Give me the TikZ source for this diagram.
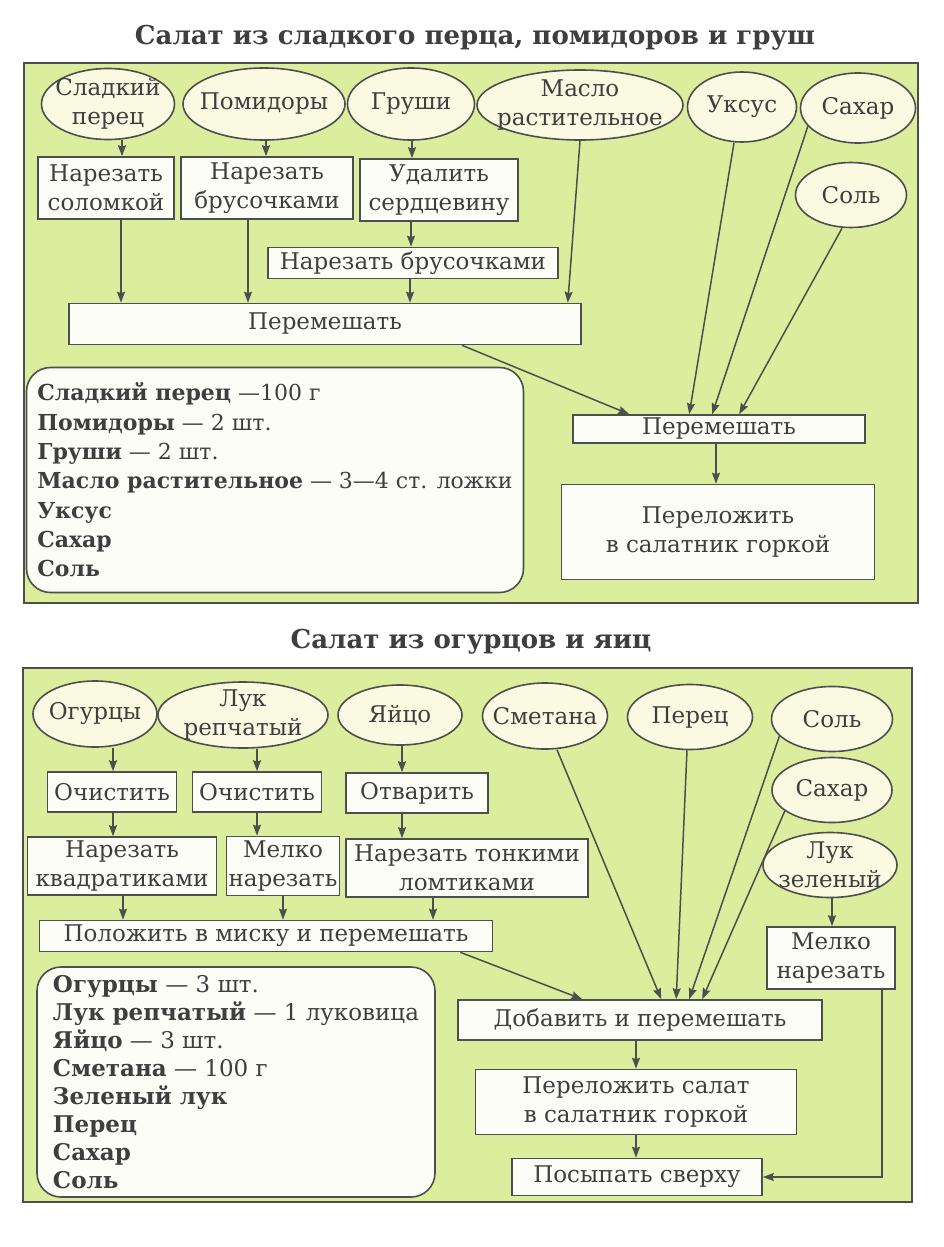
\documentclass[tikz,border=0pt]{standalone}
\usepackage{fontspec}
\setmainfont{DejaVu Serif}
\usetikzlibrary{arrows.meta,calc,shapes.geometric}

\definecolor{ink}{RGB}{78,78,78}
\definecolor{letter}{RGB}{62,62,62}
\definecolor{salad}{RGB}{221,237,158}
\definecolor{shell}{RGB}{250,250,226}
\definecolor{paper}{RGB}{253,253,248}

\begin{document}
\begin{tikzpicture}[x=1pt,y=-1pt,>={Stealth[length=11pt,width=8pt,inset=1.5pt]},
 prod/.style={ellipse,draw=ink,fill=shell,line width=1.6pt,inner xsep=-40pt,inner ysep=-40pt,
   align=center,text=letter,font=\fontsize{23}{29}\selectfont},
 act/.style={rectangle,draw=ink,fill=paper,line width=1.6pt,inner sep=0pt,
   align=center,text=letter,font=\fontsize{23}{29}\selectfont},
 list/.style={rectangle,rounded corners=24pt,draw=ink,fill=paper,line width=1.6pt,inner sep=0pt,
   align=left,text=letter},
 arr/.style={->,draw=ink,line width=1.5pt},
 title/.style={text=letter,font=\bfseries\fontsize{26}{30}\selectfont}]
 \fill[white] (0,0) rectangle (944,1247);
 \useasboundingbox (0,0) rectangle (944,1247);

 \begin{scope}
 \node[title] (title1) at (475,38) {Салат из сладкого перца, помидоров и груш};
 \draw[ink,line width=1.8pt,fill=salad] (24,63) rectangle (918,603);

 \node[prod,minimum width=133,minimum height=71] (pepper) at (108,104) {Сладкий\\перец};
 \node[prod,minimum width=162,minimum height=72] (tomato) at (264,104) {Помидоры};
 \node[prod,minimum width=127,minimum height=72] (pear) at (411,104) {Груши};
 \node[prod,minimum width=206,minimum height=70] (oil) at (580,105) {Масло\\растительное};
 \node[prod,minimum width=109,minimum height=70] (vinegar) at (742,107) {Уксус};
 \node[prod,minimum width=115,minimum height=70] (sugar) at (858,108) {Сахар};
 \node[prod,minimum width=111,minimum height=65] (salt) at (851,195) {Соль};

 \node[act,minimum width=136,minimum height=62] (strips) at (106,188) {Нарезать\\соломкой};
 \node[act,minimum width=172,minimum height=62] (bars) at (267,188) {Нарезать\\брусочками};
 \node[act,minimum width=158,minimum height=62] (core) at (439,190) {Удалить\\сердцевину};
 \node[act,minimum width=290,minimum height=31] (bars2) at (413,263) {Нарезать брусочками};
 \node[act,minimum width=512,minimum height=41] (mixA) at (325,324) {Перемешать};
 \node[act,minimum width=292,minimum height=28] (mixB) at (719,429) {Перемешать};
 \node[act,minimum width=313,minimum height=95] (serveA) at (718,532) {Переложить\\в салатник горкой};
 \node[list,minimum width=497,minimum height=225,font=\fontsize{22}{29.3}\selectfont] (listA) at (275,480)
  {\textbf{Сладкий перец} —100 г\\
   \textbf{Помидоры} — 2 шт.\\
   \textbf{Груши} — 2 шт.\\
   \textbf{Масло растительное} — 3—4 ст. ложки\\
   \textbf{Уксус}\\
   \textbf{Сахар}\\
   \textbf{Соль}};

 \draw[arr] (pepper.south) ++(14,0) coordinate (t) -- (t |- strips.north);
 \draw[arr] (tomato.south) ++(2,0) coordinate (t) -- (t |- bars.north);
 \draw[arr] (pear.south) ++(1,0) coordinate (t) -- (t |- core.north);
 \draw[arr] (strips.south) ++(15,0) coordinate (t) -- (t |- mixA.north);
 \draw[arr] (bars.south) ++(-19,0) coordinate (t) -- (t |- mixA.north);
 \draw[arr] (core.south) ++(-28,0) coordinate (t) -- (t |- bars2.north);
 \draw[arr] (bars2.south) ++(-3,0) coordinate (t) -- (t |- mixA.north);
 \draw[arr] (oil.south) -- ($(mixA.north east)+(-14,0)$);
 \draw[arr] ($(mixA.south)+(137,0)$) -- ($(mixB.north west)+(57,0)$);
 \draw[arr] ($(vinegar.south)+(-8,0)$) -- ($(mixB.north west)+(117,0)$);
 \draw[arr] (sugar.200) -- ($(mixB.north west)+(140,0)$);
 \draw[arr] ($(salt.south)+(-9,0)$) -- ($(mixB.north west)+(167,0)$);
 \draw[arr] (mixB.south) ++(-3,0) coordinate (t) -- (t |- serveA.north);
 \end{scope}

 \begin{scope}
 \node[title] (title2) at (471,642) {Салат из огурцов и яиц};
 \draw[ink,line width=1.8pt,fill=salad] (23,668) rectangle (912,1202);

 \node[prod,minimum width=124,minimum height=66] (cucumber) at (95,714) {Огурцы};
 \node[prod,minimum width=170,minimum height=66] (onion) at (243,715) {Лук\\репчатый};
 \node[prod,minimum width=124,minimum height=60] (egg) at (400,715) {Яйцо};
 \node[prod,minimum width=125,minimum height=66] (sourcream) at (545,716) {Сметана};
 \node[prod,minimum width=125,minimum height=65] (pepper2) at (690,717) {Перец};
 \node[prod,minimum width=121,minimum height=65] (salt2) at (832,719) {Соль};
 \node[prod,minimum width=120,minimum height=65] (sugar2) at (832,790) {Сахар};
 \node[prod,minimum width=134,minimum height=65] (greens) at (830,865) {Лук\\зеленый};

 \node[act,minimum width=129,minimum height=40] (peelA) at (112,792) {Очистить};
 \node[act,minimum width=129,minimum height=40] (peelB) at (257,792) {Очистить};
 \node[act,minimum width=142,minimum height=40] (boil) at (417,793) {Отварить};
 \node[act,minimum width=189,minimum height=58] (cubes) at (122,866) {Нарезать\\квадратиками};
 \node[act,minimum width=113,minimum height=59] (chop) at (283,866) {Мелко\\нарезать};
 \node[act,minimum width=242,minimum height=58] (slices) at (467,868) {Нарезать тонкими\\ломтиками};
 \node[act,minimum width=453,minimum height=31] (bowl) at (266,936) {Положить в миску и перемешать};
 \node[act,minimum width=128,minimum height=62] (chop2) at (831,958) {Мелко\\нарезать};
 \node[act,minimum width=364,minimum height=40] (addmix) at (640,1020) {Добавить и перемешать};
 \node[act,minimum width=321,minimum height=65] (serveB) at (636,1102) {Переложить салат\\в салатник горкой};
 \node[act,minimum width=250,minimum height=37] (sprinkle) at (637,1177) {Посыпать сверху};
 \node[list,minimum width=398,minimum height=230,font=\fontsize{23}{27.9}\selectfont] (listB) at (236,1082)
  {\textbf{Огурцы} — 3 шт.\\
   \textbf{Лук репчатый} — 1 луковица\\
   \textbf{Яйцо} — 3 шт.\\
   \textbf{Сметана} — 100 г\\
   \textbf{Зеленый лук}\\
   \textbf{Перец}\\
   \textbf{Сахар}\\
   \textbf{Соль}};

 \draw[arr] (cucumber.south) ++(18,0) coordinate (t) -- (t |- peelA.north);
 \draw[arr] (onion.south) ++(14,0) coordinate (t) -- (t |- peelB.north);
 \draw[arr] (egg.south) ++(2,0) coordinate (t) -- (t |- boil.north);
 \draw[arr] (peelA.south) ++(1,0) coordinate (t) -- (t |- cubes.north);
 \draw[arr] (peelB.south) coordinate (t) -- (t |- chop.north);
 \draw[arr] (boil.south) ++(-15,0) coordinate (t) -- (t |- slices.north);
 \draw[arr] (cubes.south) ++(1,0) coordinate (t) -- (t |- bowl.north);
 \draw[arr] (chop.south) coordinate (t) -- (t |- bowl.north);
 \draw[arr] (slices.south) ++(-34,0) coordinate (t) -- (t |- bowl.north);
 \draw[arr] (greens.south) ++(2,0) coordinate (t) -- (t |- chop2.north);
 \draw[arr] ($(bowl.south east)+(-33,0)$) -- ($(addmix.north west)+(125,0)$);
 \draw[arr] ($(sourcream.south)+(12,0)$) -- ($(addmix.north west)+(204,0)$);
 \draw[arr] ($(pepper2.south)+(-3,0)$) -- ($(addmix.north west)+(219,0)$);
 \draw[arr] (salt2.198) -- ($(addmix.north west)+(232,0)$);
 \draw[arr] (sugar2.204) -- ($(addmix.north west)+(245,0)$);
 \draw[arr] (addmix.south) ++(-4,0) coordinate (t) -- (t |- serveB.north);
 \draw[arr] (serveB.south) coordinate (t) -- (t |- sprinkle.north);
 \draw[arr] (chop2.south) ++(51,0) coordinate (t) |- (sprinkle.east);
 \end{scope}
\end{tikzpicture}
\end{document}
